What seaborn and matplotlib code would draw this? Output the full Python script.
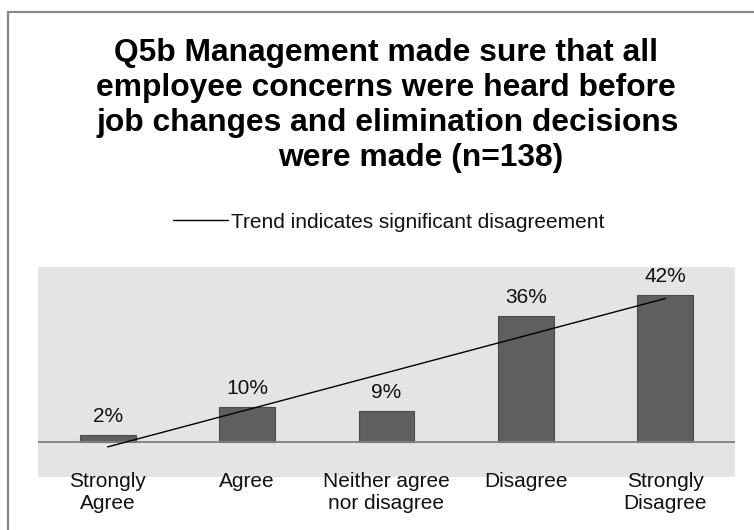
import numpy as np
import pandas as pd
import matplotlib
matplotlib.use("Agg")
import matplotlib.pyplot as plt
from matplotlib.patches import Rectangle
import seaborn as sns

# Survey responses (percent of respondents)
categories = ["Strongly\nAgree", "Agree", "Neither agree\nnor disagree", "Disagree", "Strongly\nDisagree"]
percents = [2, 10, 9, 36, 42]

title_lines = [
    "Q5b Management made sure that all",
    "employee concerns were heard before",
    "job changes and elimination decisions",
    "were made (n=138)",
]
trend_label = "Trend indicates significant disagreement"

sns.set_style("white")
plt.rcParams["font.family"] = ["Liberation Sans", "DejaVu Sans"]

W, H = 754, 530
fig = plt.figure(figsize=(W / 100, H / 100), dpi=100)
fig.patch.set_facecolor("white")

# Outer frame
fig.patches.append(Rectangle((8 / W, -0.1), 1.2, 1.1 - 12 / H,
                             transform=fig.transFigure, fill=False,
                             edgecolor="#888888", linewidth=1.6))

ax = fig.add_axes([38 / W, 1 - 477 / H, 697 / W, 210 / H])
ax.set_facecolor("#e4e4e4")

df = pd.DataFrame({"category": categories, "percent": percents})
sns.barplot(data=df, x="category", y="percent", color="#5f5f5f",
            width=0.4, saturation=1, edgecolor="#4a4a4a", linewidth=0.8, ax=ax)

ax.set_xlim(-0.5, 4.5)
ax.set_ylim(-10, 50)
ax.axhline(0, color="#808080", linewidth=1.3, zorder=1)

# Linear trend across the response scale
xs = np.arange(len(percents))
slope, intercept = np.polyfit(xs, percents, 1)
ax.plot([xs[0], xs[-1]], [intercept + slope * xs[0], intercept + slope * xs[-1]],
        color="black", linewidth=1.0, label=trend_label, zorder=3)

for i, v in enumerate(percents):
    ax.annotate(f"{v}%", xy=(i, v), xytext=(0, 13), textcoords="offset pixels",
                ha="center", va="baseline", fontsize=15, color="#111111")

for i, lab in enumerate(categories):
    ax.annotate(lab, xy=(i, 0), xycoords=("data", "axes fraction"),
                xytext=(0, 5), textcoords="offset pixels",
                ha="center", va="top", fontsize=15, color="#111111",
                linespacing=1.17, annotation_clip=False)

ax.set_xticks([])
ax.set_yticks([])
ax.set_xlabel("")
ax.set_ylabel("")
for s in ax.spines.values():
    s.set_visible(False)

# Title, one line at a time
title_pos = [(386, 61), (386, 96), (388, 131), (421, 166)]
for text, (x, y) in zip(title_lines, title_pos):
    fig.text(x / W, 1 - y / H, text, ha="center", va="baseline",
             fontsize=22.9, fontweight="bold", color="black")

leg = fig.legend(loc="center left", bbox_to_anchor=(173 / W, 1 - 222 / H),
                 frameon=False, fontsize=15, handlelength=2.65,
                 handletextpad=0.15, borderpad=0, borderaxespad=0)
for t in leg.get_texts():
    t.set_color("#111111")

fig.savefig("out.png", dpi=100)
